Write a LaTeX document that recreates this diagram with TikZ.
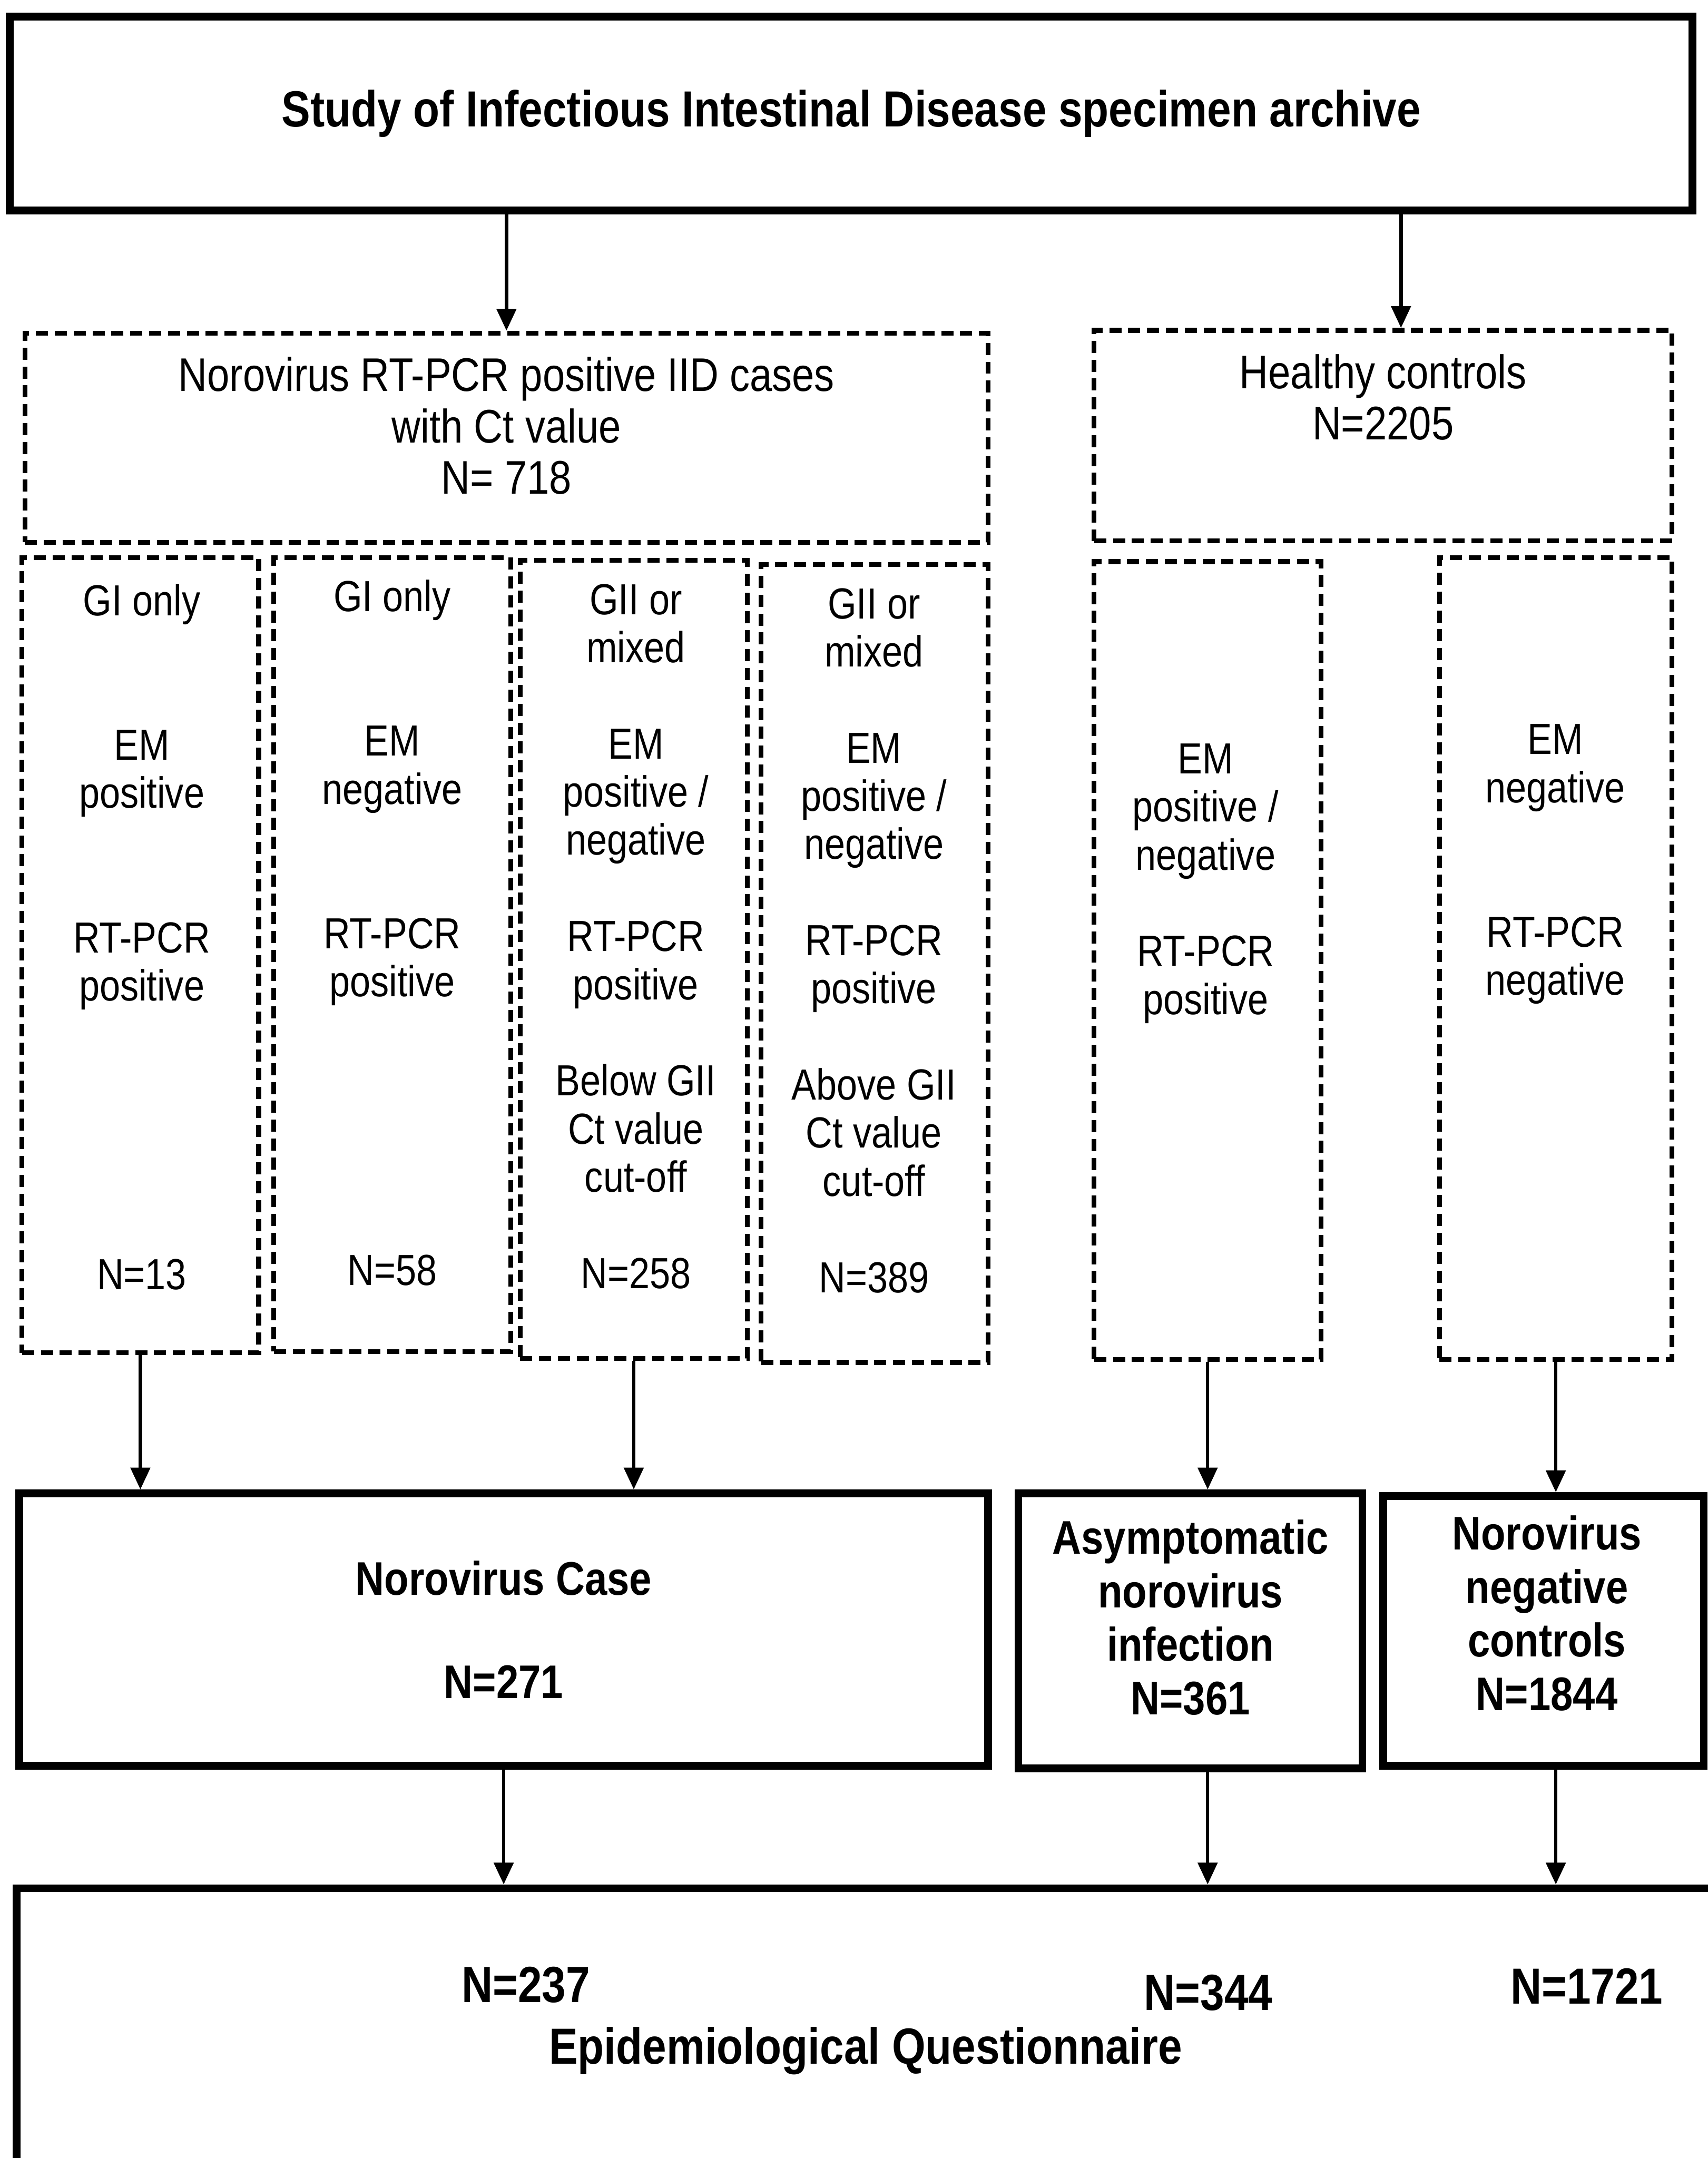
\documentclass[tikz,border=0pt]{standalone}
\usepackage{fontspec}
\setmainfont{Liberation Sans}[FakeStretch=0.85]
\usetikzlibrary{arrows.meta}

\tikzset{
  solidbox/.style={draw, line width=3.2pt, inner sep=0pt},
  dashbox/.style={draw, line width=2pt, dash pattern=on 5pt off 2.8pt, inner sep=0pt},
  coltext/.style={align=center, inner sep=0pt, anchor=north, font=\fontsize{18}{19.9}\selectfont},
  headtext/.style={coltext, font=\fontsize{19.5}{21.3}\selectfont},
  boldtext/.style={align=center, inner sep=0pt, anchor=north, font=\bfseries\fontsize{19.5}{22.1}\selectfont},
  bignum/.style={inner sep=0pt, font=\bfseries\fontsize{21}{25}\selectfont},
  arr/.style={-{Triangle[length=9pt,width=8pt]}, line width=1.4pt},
}

\begin{document}
\begin{tikzpicture}[x=0.02cm, y=-0.02cm]
\useasboundingbox (0,0) rectangle (1241,1568);

\node[solidbox, minimum width=24.46cm, minimum height=2.82cm, font=\bfseries\fontsize{21}{25}\selectfont] (top) at (618.5,82.5) {Study of Infectious Intestinal Disease specimen archive};

% second row
\node[dashbox, minimum width=14cm, minimum height=3.04cm] (cases) at (368,318) {};
\node[dashbox, minimum width=8.4cm, minimum height=3.06cm] (healthy) at (1005,316.5) {};
\node[headtext] (casestext) at (368,259) {Norovirus RT-PCR positive IID cases\\with Ct value\\N= 718};
\node[headtext] (healthytext) at (1005,257) {Healthy controls\\N=2205};

% columns
\node[dashbox, minimum width=3.44cm, minimum height=11.56cm] (gIpos) at (102,694) {};
\node[dashbox, minimum width=3.44cm, minimum height=11.54cm] (gIneg) at (285,693.5) {};
\node[dashbox, minimum width=3.3cm, minimum height=11.6cm] (gIIbelow) at (460.5,697) {};
\node[dashbox, minimum width=3.3cm, minimum height=11.6cm] (gIIabove) at (635.5,700) {};
\node[dashbox, minimum width=3.3cm, minimum height=11.6cm] (ctrlpos) at (877.5,698) {};
\node[dashbox, minimum width=3.38cm, minimum height=11.66cm] (ctrlneg) at (1130.5,696.5) {};

\node[coltext] (gIpostext) at (103,424) {GI only\\[1.4cm]EM\\positive\\[1.4cm]RT-PCR\\positive\\[3.5cm]N=13};
\node[coltext] (gInegtext) at (285,421) {GI only\\[1.4cm]EM\\negative\\[1.4cm]RT-PCR\\positive\\[3.5cm]N=58};
\node[coltext] (gIIbelowtext) at (462,424) {GII or\\mixed\\[0.7cm]EM\\positive /\\negative\\[0.7cm]RT-PCR\\positive\\[0.7cm]Below GII\\Ct value\\cut-off\\[0.7cm]N=258};
\node[coltext] (gIIabovetext) at (635,427) {GII or\\mixed\\[0.7cm]EM\\positive /\\negative\\[0.7cm]RT-PCR\\positive\\[0.7cm]Above GII\\Ct value\\cut-off\\[0.7cm]N=389};
\node[coltext] (ctrlpostext) at (876,540) {EM\\positive /\\negative\\[0.7cm]RT-PCR\\positive};
\node[coltext] (ctrlnegtext) at (1130,526) {EM\\negative\\[1.4cm]RT-PCR\\negative};

% outcome boxes
\node[solidbox, minimum width=14.08cm, minimum height=3.96cm, align=center, font=\bfseries\fontsize{19.5}{22.1}\selectfont] (nvcase) at (366,1184) {Norovirus Case\\[0.72cm]N=271};
\node[solidbox, minimum width=5cm, minimum height=4cm] (asym) at (865,1185) {};
\node[solidbox, minimum width=4.66cm, minimum height=3.92cm] (negctrl) at (1121.5,1185) {};
\node[boldtext] (asymtext) at (865,1104) {Asymptomatic\\norovirus\\infection\\N=361};
\node[boldtext] (negctrltext) at (1124,1101) {Norovirus\\negative\\controls\\N=1844};

% questionnaire
\node[solidbox, minimum width=25cm, minimum height=4.96cm] (quest) at (637,1496) {};
\node[bignum] (questcase) at (382,1442) {N=237};
\node[bignum] (questasym) at (878,1448) {N=344};
\node[bignum] (questneg) at (1153,1443) {N=1721};
\node[bignum] (questtext) at (629,1490) {Epidemiological Questionnaire};

% arrows
\draw[arr] (top.south -| cases.north) -- (cases.north);
\draw[arr] ([xshift=0.26cm]top.south -| healthy.north) -- ([xshift=0.26cm]healthy.north);
\draw[arr] (gIpos.south) -- (gIpos.south |- nvcase.north);
\draw[arr] (gIIbelow.south) -- (gIIbelow.south |- nvcase.north);
\draw[arr] (ctrlpos.south) -- (ctrlpos.south |- asym.north);
\draw[arr] (ctrlneg.south) -- (ctrlneg.south |- negctrl.north);
\draw[arr] (nvcase.south) -- (nvcase.south |- quest.north);
\draw[arr] (asym.south -| ctrlpos.south) -- (ctrlpos.south |- quest.north);
\draw[arr] (negctrl.south -| ctrlneg.south) -- (ctrlneg.south |- quest.north);
\end{tikzpicture}
\end{document}
